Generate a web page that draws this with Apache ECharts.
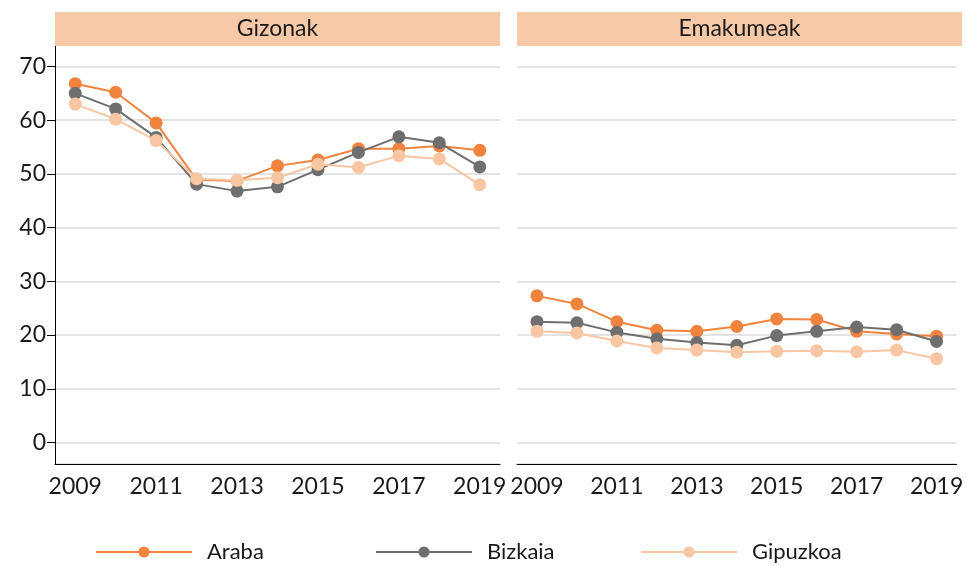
<!DOCTYPE html>
<html>
<head>
<meta charset="utf-8">
<script src="https://cdn.jsdelivr.net/npm/echarts@6/dist/echarts.min.js"></script>
<style>
  html, body { margin: 0; padding: 0; background: #fff; }
  #main { width: 966px; height: 566px; }
</style>
</head>
<body>
<div id="main"></div>
<script>
var years = ['2009', '2010', '2011', '2012', '2013', '2014', '2015', '2016', '2017', '2018', '2019']
var panels = ['Gizonak', 'Emakumeak']
var seriesNames = ['Araba', 'Bizkaia', 'Gipuzkoa']
var colors = ['#f0843f', '#6f6f6f', '#f8c6a3']

// Gizonak
var arabaM = [66.8, 65.2, 59.5, 48.9, 48.7, 51.5, 52.6, 54.7, 54.7, 55.2, 54.4]
var bizkaiaM = [65.0, 62.1, 56.8, 48.1, 46.8, 47.6, 50.8, 54.0, 56.9, 55.8, 51.3]
var gipuzkoaM = [63.0, 60.2, 56.2, 49.1, 48.8, 49.3, 51.8, 51.2, 53.4, 52.8, 48.0]
// Emakumeak
var arabaW = [27.3, 25.8, 22.5, 20.9, 20.7, 21.6, 23.0, 22.9, 20.7, 20.2, 19.8]
var bizkaiaW = [22.5, 22.3, 20.5, 19.3, 18.6, 18.1, 19.9, 20.7, 21.5, 21.0, 18.8]
var gipuzkoaW = [20.7, 20.4, 18.9, 17.6, 17.2, 16.8, 17.0, 17.1, 16.9, 17.2, 15.6]

var font = 'Lato, "Open Sans", sans-serif'
var textColor = '#1a1a1a'

var chart = echarts.init(document.getElementById('main'), null, { renderer: 'canvas' })

var grids = [
  { left: 55, width: 445, top: 45, bottom: 102 },
  { left: 517, width: 445, top: 45, bottom: 102 }
]

function xAxisFor (i) {
  return {
    type: 'category',
    gridIndex: i,
    data: years,
    boundaryGap: true,
    axisLine: { onZero: false, lineStyle: { color: '#000', width: 1 } },
    axisTick: { interval: 1, alignWithLabel: true, length: 9, lineStyle: { color: '#000' } },
    axisLabel: { interval: 1, margin: 11, fontSize: 23, color: textColor, fontFamily: font },
    splitLine: { show: false }
  }
}

function yAxisFor (i) {
  return {
    type: 'value',
    gridIndex: i,
    min: -4,
    max: 74,
    minInterval: 10,
    maxInterval: 10,
    axisLine: { show: i === 0, lineStyle: { color: '#000', width: 1 } },
    axisTick: { show: i === 0, length: 8, lineStyle: { color: '#000' } },
    axisLabel: {
      show: i === 0, showMinLabel: false, showMaxLabel: false,
      margin: 9, fontSize: 23, color: textColor, fontFamily: font
    },
    splitLine: { show: true, lineStyle: { color: '#e3e3e3', width: 2 } }
  }
}

function lineSeries (name, data, idx, panel) {
  return {
    name: name,
    type: 'line',
    xAxisIndex: panel,
    yAxisIndex: panel,
    data: data,
    symbol: 'circle',
    symbolSize: 13,
    showSymbol: true,
    color: colors[idx],
    lineStyle: { width: 2, color: colors[idx] },
    itemStyle: { color: colors[idx] },
    z: 2 + idx
  }
}

var panelData = [
  [arabaM, bizkaiaM, gipuzkoaM],
  [arabaW, bizkaiaW, gipuzkoaW]
]

var series = []
panelData.forEach(function (sets, p) {
  sets.forEach(function (d, k) {
    series.push(lineSeries(seriesNames[k], d, k, p))
  })
})

var legendLeft = [95, 375, 640]
var legends = seriesNames.map(function (n, k) {
  return {
    data: [n],
    left: legendLeft[k],
    top: 541,
    padding: 0,
    itemWidth: 96,
    itemHeight: 14,
    textStyle: { fontSize: 22, color: textColor, fontFamily: font, padding: [0, 0, 0, 10] }
  }
})

var headers = []
grids.forEach(function (g, i) {
  headers.push({
    type: 'rect',
    left: g.left,
    top: 12,
    shape: { width: g.width, height: 34 },
    style: { fill: '#f8c9a7' },
    z: 100
  })
  headers.push({
    type: 'text',
    x: g.left + g.width / 2,
    y: 29,
    style: {
      text: panels[i], fill: textColor, font: '23px ' + font,
      textAlign: 'center', textVerticalAlign: 'middle'
    },
    z: 101
  })
})

var option = {
  animation: false,
  backgroundColor: '#fff',
  textStyle: { fontFamily: font },
  grid: grids,
  xAxis: [xAxisFor(0), xAxisFor(1)],
  yAxis: [yAxisFor(0), yAxisFor(1)],
  legend: legends,
  graphic: headers,
  series: series
}

chart.setOption(option)
</script>
</body>
</html>
